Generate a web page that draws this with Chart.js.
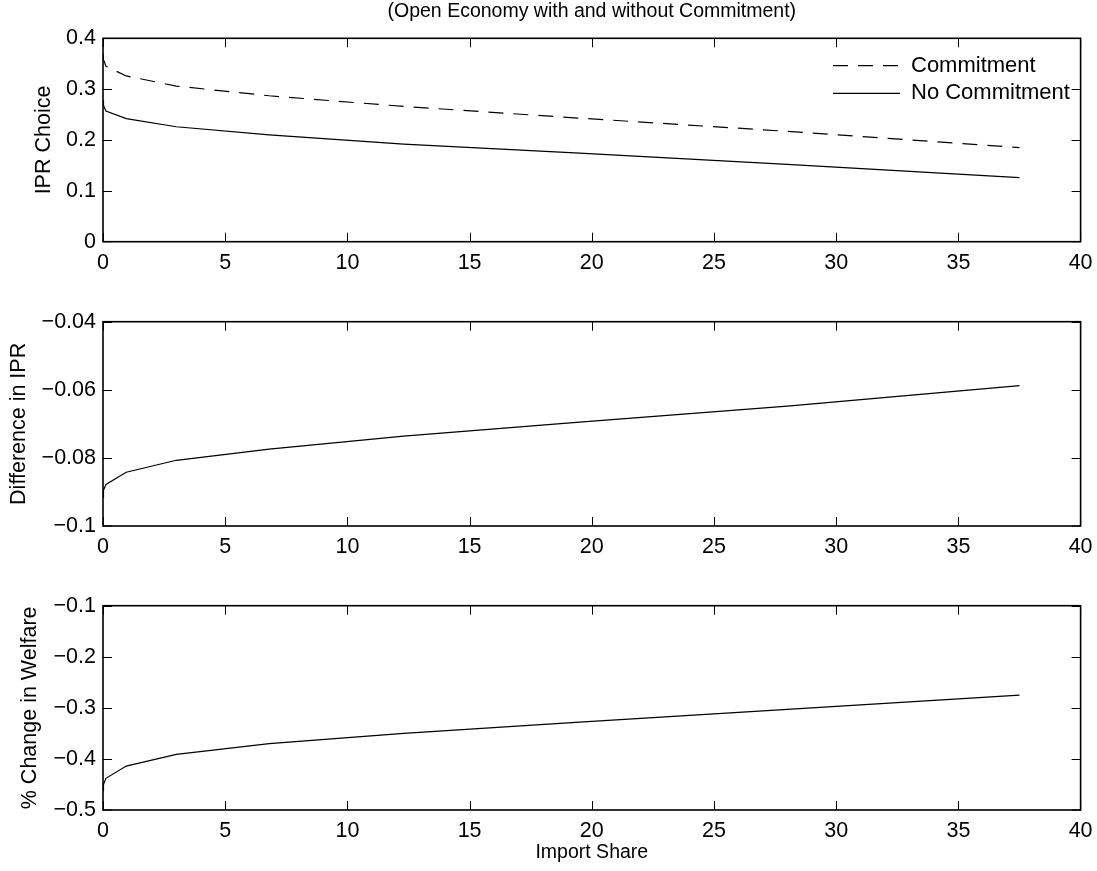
<!DOCTYPE html>
<html>
<head>
<meta charset="utf-8">
<title>IPR choice and import share</title>
<script src="https://cdn.jsdelivr.net/npm/chart.js@4/dist/chart.umd.min.js"></script>
<style>
  html, body { margin: 0; padding: 0; background: #fff; }
  #fig { position: relative; width: 1097px; height: 871px; background: #fff; overflow: hidden; }
  #fig canvas { position: absolute; left: 0; }
</style>
</head>
<body>
<div id="fig">
  <canvas id="ipr" width="1097" height="290" style="top:0px"></canvas>
  <canvas id="diff" width="1097" height="290" style="top:290px"></canvas>
  <canvas id="welfare" width="1097" height="291" style="top:580px"></canvas>
</div>
<script>
// Import share grid (percent) and the model outcomes at each point
const importShare     = [0, 0.02, 0.12, 0.95, 3.0, 6.8, 12.3, 19.5, 28.0, 37.5];
const iprCommitment   = [0.370, 0.358, 0.345, 0.326, 0.306, 0.287, 0.266, 0.243, 0.217, 0.185];
const iprNoCommitment = [0.278, 0.268, 0.257, 0.242, 0.226, 0.210, 0.192, 0.174, 0.152, 0.126];
const iprDifference   = [-0.0916, -0.0895, -0.0878, -0.0842, -0.0807, -0.0774, -0.0736, -0.0695, -0.0648, -0.0588];
const welfareChange   = [-0.462, -0.450, -0.438, -0.414, -0.391, -0.370, -0.350, -0.328, -0.303, -0.275];

// Axis ticks
const xTicks        = [0, 5, 10, 15, 20, 25, 30, 35, 40];
const yTicksIPR     = [0, 0.1, 0.2, 0.3, 0.4];
const yTicksDiff    = [-0.1, -0.08, -0.06, -0.04];
const yTicksWelfare = [-0.5, -0.4, -0.3, -0.2, -0.1];

const FONT = '"Liberation Sans", Arial, Helvetica, sans-serif';
Chart.defaults.font.family = FONT;
Chart.defaults.color = '#000';

const points = ys => importShare.map((x, i) => ({ x: x, y: ys[i] }));
const fmt = v => String(+Number(v).toFixed(4)).replace('-', '\u2212');

// Box around the axes with inward tick marks on all four sides
const boxAxes = {
  id: 'boxAxes',
  afterDatasetsDraw(chart) {
    const { ctx, chartArea: a, scales: { x, y } } = chart;
    const len = 9;
    ctx.save();
    ctx.strokeStyle = '#000';
    ctx.lineWidth = 1;
    ctx.beginPath();
    x.ticks.forEach(t => {
      const px = Math.min(Math.round(x.getPixelForValue(t.value)) + 0.5, a.right);
      ctx.moveTo(px, a.bottom); ctx.lineTo(px, a.bottom - len);
      ctx.moveTo(px, a.top);    ctx.lineTo(px, a.top + len);
    });
    y.ticks.forEach(t => {
      const py = Math.min(Math.round(y.getPixelForValue(t.value)) + 0.5, a.bottom);
      ctx.moveTo(a.left, py);  ctx.lineTo(a.left + len, py);
      ctx.moveTo(a.right, py); ctx.lineTo(a.right - len, py);
    });
    ctx.stroke();
    ctx.lineWidth = 1.6;
    ctx.strokeRect(a.left, a.top, a.right - a.left, a.bottom - a.top);
    ctx.restore();
  }
};

// Legend drawn inside the upper-right corner of the axes
const insetLegend = {
  id: 'insetLegend',
  afterDraw(chart, args, opts) {
    if (!opts.show) return;
    const { ctx, chartArea: a } = chart;
    chart.data.datasets.forEach((ds, i) => {
      const y = a.top + opts.firstRow + i * opts.rowGap;
      ctx.save();
      ctx.strokeStyle = ds.borderColor;
      ctx.lineWidth = ds.borderWidth;
      ctx.setLineDash(ds.borderDash || []);
      ctx.beginPath();
      ctx.moveTo(a.right - opts.lineStart, y);
      ctx.lineTo(a.right - opts.lineEnd, y);
      ctx.stroke();
      ctx.setLineDash([]);
      ctx.fillStyle = '#000';
      ctx.font = opts.fontSize + 'px ' + FONT;
      ctx.textBaseline = 'middle';
      ctx.textAlign = 'left';
      ctx.fillText(ds.label, a.right - opts.textStart, y);
      ctx.restore();
    });
  }
};

// Figure heading centred over the top axes
const heading = {
  id: 'heading',
  afterDraw(chart, args, opts) {
    if (!opts.text) return;
    const { ctx, chartArea: a } = chart;
    ctx.save();
    ctx.fillStyle = '#000';
    ctx.font = opts.fontSize + 'px ' + FONT;
    ctx.textAlign = 'center';
    ctx.textBaseline = 'middle';
    ctx.fillText(opts.text, (a.left + a.right) / 2, opts.y);
    ctx.restore();
  }
};

function makeChart(id, cfg) {
  const datasets = cfg.series.map(s => ({
    label: s.label,
    data: points(s.values),
    borderColor: '#000',
    borderWidth: 1.2,
    borderDash: s.dash || [],
    pointRadius: 0,
    tension: 0,
    fill: false
  }));
  return new Chart(document.getElementById(id), {
    type: 'line',
    data: { datasets },
    options: {
      responsive: false,
      animation: false,
      events: [],
      layout: { padding: cfg.padding },
      plugins: {
        legend: { display: false },
        tooltip: { enabled: false },
        insetLegend: cfg.legend || { show: false },
        heading: cfg.heading || {}
      },
      scales: {
        x: {
          type: 'linear',
          min: 0, max: 40,
          afterBuildTicks: s => { s.ticks = xTicks.map(v => ({ value: v })); },
          afterFit: s => { s.height = cfg.xHeight; s.paddingLeft = 0; s.paddingRight = 0; },
          grid: { display: false, drawTicks: false },
          border: { display: false },
          ticks: { autoSkip: false, maxRotation: 0, padding: 8, font: { size: 21.5 }, callback: v => fmt(v) },
          title: cfg.xTitle
            ? { display: true, text: cfg.xTitle, font: { size: 19.5 }, padding: { top: 0, bottom: 7 } }
            : { display: false }
        },
        y: {
          type: 'linear',
          min: cfg.yTicks[0], max: cfg.yTicks[cfg.yTicks.length - 1],
          afterBuildTicks: s => { s.ticks = cfg.yTicks.map(v => ({ value: v })); },
          afterFit: s => { s.width = 103 - cfg.padding.left; s.paddingTop = 0; s.paddingBottom = 0; },
          grid: { display: false, drawTicks: false },
          border: { display: false },
          ticks: { padding: 7, font: { size: 21.5 }, callback: v => fmt(v) },
          title: { display: true, text: cfg.yTitle, font: { size: 21.5 }, padding: 0 }
        }
      }
    },
    plugins: [boxAxes, insetLegend, heading]
  });
}

makeChart('ipr', {
  series: [
    { label: 'Commitment', values: iprCommitment, dash: [15, 10] },
    { label: 'No Commitment', values: iprNoCommitment }
  ],
  yTicks: yTicksIPR,
  yTitle: 'IPR Choice',
  padding: { top: 38.3, left: 31.2, right: 16.4, bottom: 8.3 },
  xHeight: 40,
  legend: { show: true, firstRow: 27.4, rowGap: 27.6, lineStart: 247.6, lineEnd: 180.6, textStart: 169.6, fontSize: 22 },
  heading: { text: '(Open Economy with and without Commitment)', y: 12, fontSize: 19.5 }
});

makeChart('diff', {
  series: [{ label: 'Difference in IPR', values: iprDifference }],
  yTicks: yTicksDiff,
  yTitle: 'Difference in IPR',
  padding: { top: 31.7, left: 5.7, right: 16.4, bottom: 14 },
  xHeight: 40
});

makeChart('welfare', {
  series: [{ label: '% Change in Welfare', values: welfareChange }],
  yTicks: yTicksWelfare,
  yTitle: '% Change in Welfare',
  xTitle: 'Import Share',
  padding: { top: 25.7, left: 17.4, right: 16.4, bottom: 0 },
  xHeight: 61
});
</script>
</body>
</html>
